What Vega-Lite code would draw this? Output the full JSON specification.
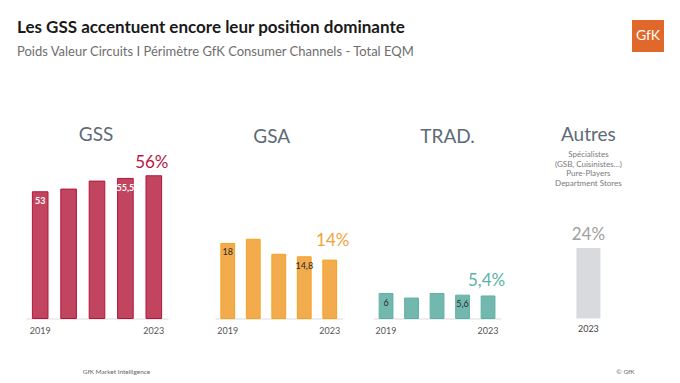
{
  "$schema": "https://vega.github.io/schema/vega-lite/v6.json",
  "padding": {"left": 7, "top": 19, "right": 0, "bottom": 0},
  "background": "white",
  "config": {"font": "Lato", "view": {"stroke": null}},
  "datasets": {
    "bars": [
      {"panel": "GSS", "year": "2019", "value": 53, "label": "53"},
      {"panel": "GSS", "year": "2020", "value": 53.5},
      {"panel": "GSS", "year": "2021", "value": 55},
      {"panel": "GSS", "year": "2022", "value": 55.5, "label": "55,5"},
      {"panel": "GSS", "year": "2023", "value": 56, "pct": "56%"},
      {"panel": "GSA", "year": "2019", "value": 18, "label": "18"},
      {"panel": "GSA", "year": "2020", "value": 19},
      {"panel": "GSA", "year": "2021", "value": 15.4},
      {"panel": "GSA", "year": "2022", "value": 14.8, "label": "14,8"},
      {"panel": "GSA", "year": "2023", "value": 14, "pct": "14%"},
      {"panel": "TRAD", "year": "2019", "value": 6, "label": "6"},
      {"panel": "TRAD", "year": "2020", "value": 4.9},
      {"panel": "TRAD", "year": "2021", "value": 6},
      {"panel": "TRAD", "year": "2022", "value": 5.6, "label": "5,6"},
      {"panel": "TRAD", "year": "2023", "value": 5.4, "pct": "5,4%"},
      {"panel": "Autres", "year": "2023", "value": 24, "pct": "24%"}
    ],
    "footer": [
      {"t": "GfK Market Intelligence"},
      {"t": "© GfK"}
    ]
  },
  "spacing": 15.5,
  "vconcat": [
    {
      "bounds": "flush",
      "spacing": 0,
      "hconcat": [
        {
          "width": 625, "height": 90,
          "data": {"values": []},
          "mark": "text",
          "encoding": {},
          "title": {
            "text": "Les GSS accentuent encore leur position dominante",
            "subtitle": "Poids Valeur Circuits I Périmètre GfK Consumer Channels - Total EQM",
            "anchor": "start",
            "dx": 10,
            "offset": -40,
            "font": "Lato",
            "fontSize": 17,
            "fontWeight": "bold",
            "color": "#1a1a1a",
            "subtitleFont": "Lato",
            "subtitleFontSize": 13,
            "subtitleColor": "#6e6e6e",
            "subtitlePadding": 9
          }
        },
        {
          "width": 32, "height": 32,
          "data": {"values": [{"logo": "GfK"}]},
          "view": {"fill": "#e0682b", "stroke": null},
          "mark": {"type": "text", "color": "white", "fontSize": 14, "font": "Lato", "baseline": "middle"},
          "encoding": {"text": {"field": "logo"}}
        }
      ]
    },
    {
      "bounds": "flush",
      "spacing": 0,
      "hconcat": [
        {
          "width": 178, "height": 163,
          "data": {"name": "bars"},
          "transform": [{"filter": "datum.panel == 'GSS'"}],
          "title": {"text": "GSS", "fontSize": 19, "fontWeight": "normal", "color": "#5e6a77", "offset": 9},
          "encoding": {
            "x": {"field": "year", "type": "ordinal", "scale": {"range": [19, 161], "paddingInner": 0.45, "paddingOuter": 0.225},
              "axis": {"title": null, "ticks": false, "domainColor": "#dcdcdc", "labelFontSize": 9, "labelColor": "#555", "labelPadding": 8, "labelAngle": 0, "grid": false,
                "labelExpr": "datum.label == '2019' || datum.label == '2023' ? datum.label : ''"}},
            "y": {"field": "value", "type": "quantitative", "scale": {"domain": [29.24, 59.8], "zero": false, "nice": false, "clamp": true}, "axis": null}
          },
          "layer": [
            {"mark": {"type": "bar", "fill": "#c2455f", "stroke": "#b5143c", "strokeWidth": 1}},
            {"transform": [{"filter": "isValid(datum.label)"}],
             "mark": {"type": "text", "color": "white", "fontWeight": "bold", "fontSize": 9, "baseline": "middle", "dy": 9.5},
             "encoding": {"text": {"field": "label"}}},
            {"transform": [{"filter": "isValid(datum.pct)"}],
             "mark": {"type": "text", "color": "#b8173f", "fontSize": 17, "baseline": "alphabetic", "dx": -2, "dy": -8},
             "encoding": {"text": {"field": "pct"}}}
          ]
        },
        {
          "width": 173.4, "height": 163,
          "data": {"name": "bars"},
          "transform": [{"filter": "datum.panel == 'GSA'"}],
          "title": {"text": "GSA", "fontSize": 19, "fontWeight": "normal", "color": "#5e6a77", "offset": 9},
          "encoding": {
            "x": {"field": "year", "type": "ordinal", "scale": {"range": [30, 157.5], "paddingInner": 0.46, "paddingOuter": 0.23},
              "axis": {"title": null, "ticks": false, "domainColor": "#dcdcdc", "labelFontSize": 9, "labelColor": "#555", "labelPadding": 8, "labelAngle": 0, "grid": false,
                "labelExpr": "datum.label == '2019' || datum.label == '2023' ? datum.label : ''"}},
            "y": {"field": "value", "type": "quantitative", "scale": {"domain": [0, 39.09], "nice": false}, "axis": null}
          },
          "layer": [
            {"mark": {"type": "bar", "fill": "#f2ac4e", "stroke": "#f5a21f", "strokeWidth": 1}},
            {"transform": [{"filter": "isValid(datum.label)"}],
             "mark": {"type": "text", "color": "#2a2a2a", "fontSize": 9, "baseline": "middle", "dy": 9},
             "encoding": {"text": {"field": "label"}}},
            {"transform": [{"filter": "isValid(datum.pct)"}],
             "mark": {"type": "text", "color": "#f2a33a", "fontSize": 17, "baseline": "alphabetic", "dx": 3, "dy": -14},
             "encoding": {"text": {"field": "pct"}}}
          ]
        },
        {
          "width": 177.2, "height": 163,
          "data": {"name": "bars"},
          "transform": [{"filter": "datum.panel == 'TRAD'"}],
          "title": {"text": "TRAD.", "fontSize": 19, "fontWeight": "normal", "color": "#5e6a77", "offset": 9},
          "encoding": {
            "x": {"field": "year", "type": "ordinal", "scale": {"range": [14.3, 141.8], "paddingInner": 0.46, "paddingOuter": 0.23},
              "axis": {"title": null, "ticks": false, "domainColor": "#dcdcdc", "labelFontSize": 9, "labelColor": "#555", "labelPadding": 8, "labelAngle": 0, "grid": false,
                "labelExpr": "datum.label == '2019' || datum.label == '2023' ? datum.label : ''"}},
            "y": {"field": "value", "type": "quantitative", "scale": {"domain": [0, 39.09], "nice": false}, "axis": null}
          },
          "layer": [
            {"mark": {"type": "bar", "fill": "#72b8af", "stroke": "#5fb0a4", "strokeWidth": 1}},
            {"transform": [{"filter": "isValid(datum.label)"}],
             "mark": {"type": "text", "color": "#2a2a2a", "fontSize": 9, "baseline": "middle", "dy": 9.3},
             "encoding": {"text": {"field": "label"}}},
            {"transform": [{"filter": "isValid(datum.pct)"}],
             "mark": {"type": "text", "color": "#5cb3a7", "fontSize": 17, "baseline": "alphabetic", "dx": -1.5, "dy": -10},
             "encoding": {"text": {"field": "pct"}}}
          ]
        },
        {
          "width": 102.8, "height": 163,
          "data": {"name": "bars"},
          "transform": [{"filter": "datum.panel == 'Autres'"}],
          "title": {"text": "Autres", "fontSize": 19, "fontWeight": "normal", "color": "#5e6a77", "offset": -32.3,
            "subtitle": ["Spécialistes", "(GSB, Cuisinistes…)", "Pure-Players", "Department Stores"],
            "subtitleFontSize": 8, "subtitleColor": "#7a7a7a", "subtitleLineHeight": 9.5, "subtitlePadding": 6},
          "encoding": {
            "x": {"field": "year", "type": "ordinal", "scale": {"range": [27.4, 75.4], "paddingInner": 0.5, "paddingOuter": 0.25},
              "axis": {"title": null, "ticks": false, "domain": false, "labelFontSize": 9, "labelColor": "#444", "labelPadding": 5.5, "labelAngle": 0, "grid": false}},
            "y": {"field": "value", "type": "quantitative", "scale": {"domain": [0, 55.44], "nice": false}, "axis": null}
          },
          "layer": [
            {"mark": {"type": "bar", "fill": "#d9dadd"}},
            {"transform": [{"filter": "isValid(datum.pct)"}],
             "mark": {"type": "text", "color": "#a0a0a0", "fontSize": 17, "baseline": "alphabetic", "dy": -8.4},
             "encoding": {"text": {"field": "pct"}}}
          ]
        }
      ]
    },
    {
      "width": 632, "height": 41,
      "data": {"name": "footer"},
      "mark": {"type": "text", "fontSize": 6.5, "color": "#666", "baseline": "middle"},
      "encoding": {
        "x": {"field": "t", "type": "nominal", "sort": null, "scale": {"type": "point", "range": [109.5, 618.5], "padding": 0}, "axis": null},
        "text": {"field": "t"}
      }
    }
  ]
}
